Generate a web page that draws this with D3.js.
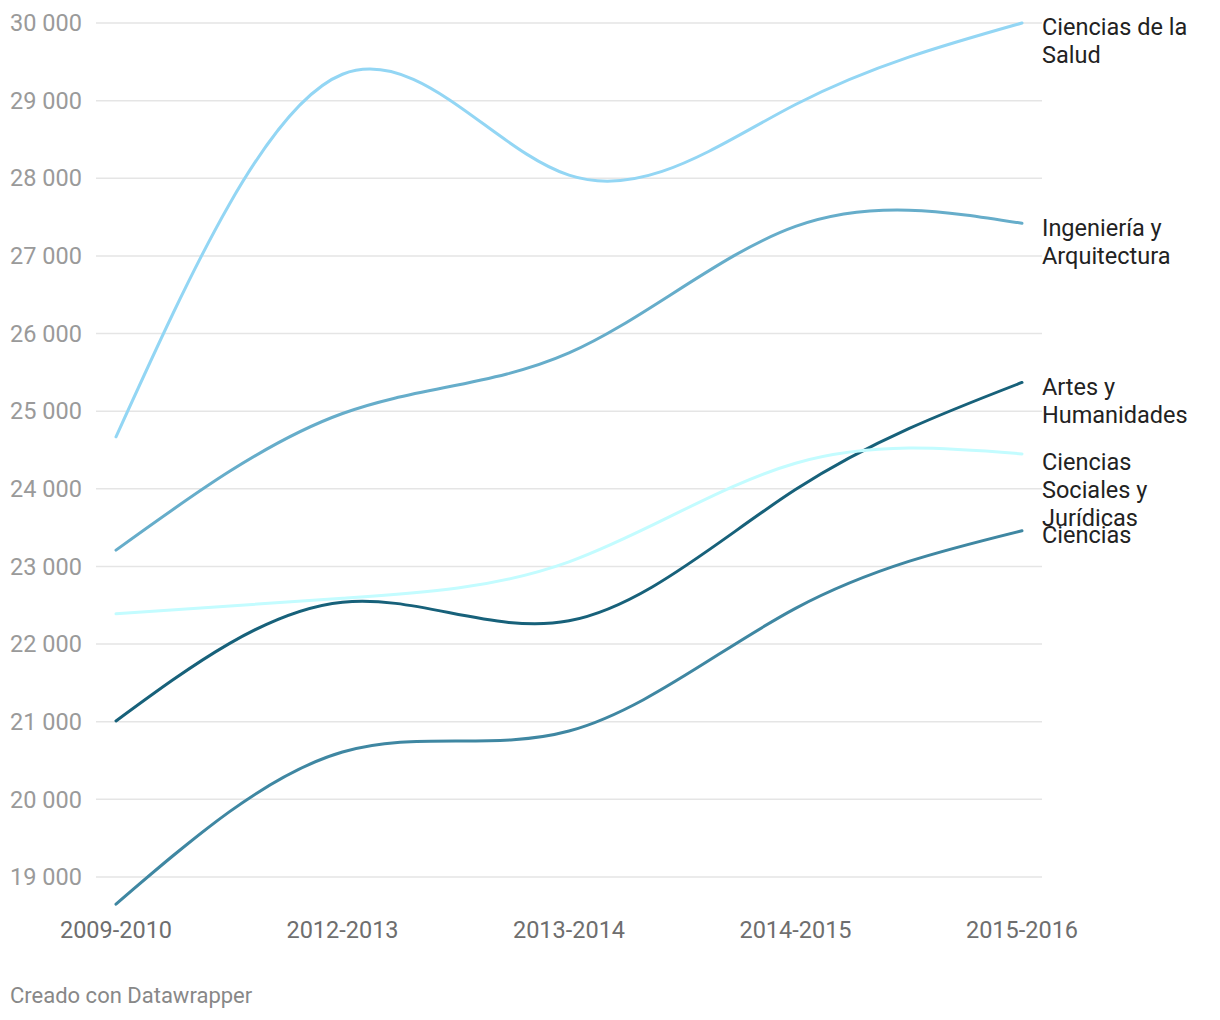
<!DOCTYPE html>
<html>
<head>
<meta charset="utf-8">
<script src="https://cdn.jsdelivr.net/npm/d3@7"></script>
<style>
  html, body { margin: 0; padding: 0; background: #fff; }
  svg { display: block; font-family: Roboto, "Noto Sans", sans-serif; }
</style>
</head>
<body>
<svg id="chart" width="1220" height="1020"></svg>
<script>
const categories = ["2009-2010", "2012-2013", "2013-2014", "2014-2015", "2015-2016"];
const seriesNames = ["Ciencias de la Salud", "Ingeniería y Arquitectura", "Artes y Humanidades", "Ciencias Sociales y Jurídicas", "Ciencias"];
const saludValues      = [24670, 29340, 28040, 28950, 30000];
const ingenieriaValues = [23210, 24970, 25750, 27380, 27420];
const artesValues      = [21010, 22540, 22300, 23990, 25370];
const socialesValues   = [22390, 22590, 23060, 24330, 24450];
const cienciasValues   = [18650, 20610, 20880, 22460, 23460];
const yTicks = [19000, 20000, 21000, 22000, 23000, 24000, 25000, 26000, 27000, 28000, 29000, 30000];
const labelLines = [["Ciencias de la", "Salud"], ["Ingeniería y", "Arquitectura"], ["Artes y", "Humanidades"], ["Ciencias", "Sociales y", "Jurídicas"], ["Ciencias"]];
const colors = ["#93d6f4", "#66adca", "#17617a", "#c3fcff", "#3f87a2"];

const seriesValues = [saludValues, ingenieriaValues, artesValues, socialesValues, cienciasValues];
const svg = d3.select("#chart");

const x = d3.scalePoint().domain(categories).range([116, 1022]);
const y = d3.scaleLinear().domain([19000, 30000]).range([877, 23]);

// gridlines
svg.append("g").selectAll("line").data(yTicks).join("line")
  .attr("x1", 96).attr("x2", 1042)
  .attr("y1", d => y(d)).attr("y2", d => y(d))
  .attr("stroke", "#e5e5e5").attr("stroke-width", 1.5);

// y labels
svg.append("g").selectAll("text").data(yTicks).join("text")
  .attr("x", 10).attr("y", d => y(d)).attr("dy", "0.35em")
  .attr("font-size", 23.5).attr("fill", "#9a9a9a")
  .text(d => d3.format(",")(d).replace(",", " "));

// x labels
svg.append("g").selectAll("text").data(categories).join("text")
  .attr("x", d => x(d)).attr("y", 938)
  .attr("text-anchor", "middle").attr("font-size", 23.5).attr("fill", "#6e6e6e")
  .text(d => d);

const line = d3.line()
  .x((d, i) => x(categories[i]))
  .y(d => y(d))
  .curve(d3.curveNatural);

const order = [4, 2, 3, 1, 0];
svg.append("g").selectAll("path").data(order).join("path")
  .attr("d", i => line(seriesValues[i]))
  .attr("fill", "none")
  .attr("stroke", i => colors[i])
  .attr("stroke-width", 3)
  .attr("stroke-linecap", "round");

// labels
const lg = svg.append("g");
seriesValues.forEach((vals, i) => {
  const last = vals[vals.length - 1];
  const nLines = labelLines[i].length;
  const t = lg.append("text")
    .attr("x", 1042).attr("y", y(last) + (nLines > 2 ? 8 : 4))
    .attr("font-size", 23.5).attr("fill", "#222");
  labelLines[i].forEach((ln, j) => {
    t.append("tspan").attr("x", 1042).attr("dy", j === 0 ? "0.35em" : 28).text(ln);
  });
});

// footer
svg.append("text").attr("x", 10).attr("y", 1003)
  .attr("font-size", 22).attr("fill", "#888")
  .text("Creado con Datawrapper");
</script>
</body>
</html>
